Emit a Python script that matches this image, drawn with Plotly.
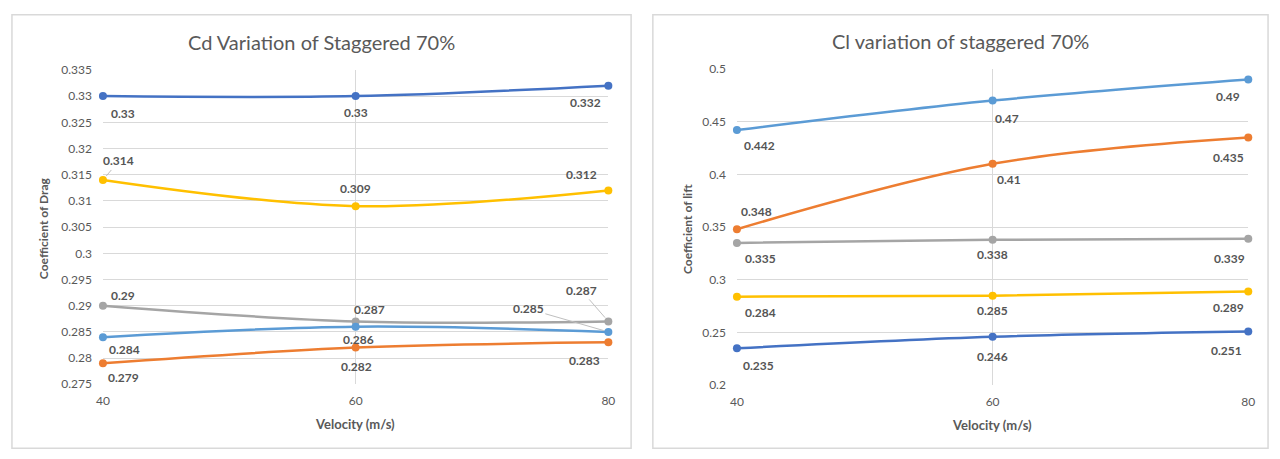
import plotly.graph_objects as go

# ---------------- data ----------------
velocity = [40, 60, 80]

# Drag coefficient, staggered 70%
cd_blue = [0.33, 0.33, 0.332]
cd_yellow = [0.314, 0.309, 0.312]
cd_gray = [0.29, 0.287, 0.287]
cd_lightblue = [0.284, 0.286, 0.285]
cd_orange = [0.279, 0.282, 0.283]

# Lift coefficient, staggered 70%
cl_lightblue = [0.442, 0.47, 0.49]
cl_orange = [0.348, 0.41, 0.435]
cl_gray = [0.335, 0.338, 0.339]
cl_yellow = [0.284, 0.285, 0.289]
cl_blue = [0.235, 0.246, 0.251]

cd_ticks = [0.275, 0.28, 0.285, 0.29, 0.295, 0.3, 0.305, 0.31, 0.315, 0.32, 0.325, 0.33, 0.335]
cl_ticks = [0.2, 0.25, 0.3, 0.35, 0.4, 0.45, 0.5]

# ---------------- styling ----------------
FONT = "Lato"
BLUE = "#4472C4"
ORANGE = "#ED7D31"
GRAY = "#A5A5A5"
YELLOW = "#FFC000"
LIGHTBLUE = "#5B9BD5"
GRID = "#D9D9D9"
TEXT = "#595959"
LABEL = "#555555"

W, H = 1280, 459

# label offsets in screen pixels (dx right, dy down); flag adds a leader line
cd_series = [
    (cd_blue, BLUE, [(20, 17), (0, 16), (-23, 17)], [False, False, False]),
    (cd_yellow, YELLOW, [(16, -19), (0, -18), (-27, -16)], [True, False, False]),
    (cd_gray, GRAY, [(20, -10), (14, -12), (-27, -31)], [False, False, True]),
    (cd_lightblue, LIGHTBLUE, [(22, 12), (3, 13), (-80, -23)], [False, False, True]),
    (cd_orange, ORANGE, [(21, 14), (1, 19), (-24, 18)], [False, False, False]),
]
cl_series = [
    (cl_lightblue, LIGHTBLUE, [(23, 15), (14, 18), (-20, 17)], [False] * 3),
    (cl_orange, ORANGE, [(20, -18), (16, 16), (-20, 20)], [False] * 3),
    (cl_gray, GRAY, [(24, 16), (0, 15), (-19, 20)], [False] * 3),
    (cl_yellow, YELLOW, [(24, 16), (0, 15), (-20, 16)], [False] * 3),
    (cl_blue, BLUE, [(22, 17), (0, 20), (-22, 19)], [False] * 3),
]

fig = go.Figure()
annotations = []


def fmt(v):
    return f"{v:g}"


def add_chart(series, xa, ya):
    for values, color, offsets, arrows in series:
        fig.add_trace(go.Scatter(
            x=velocity, y=values, mode="lines+markers",
            xaxis=xa, yaxis=ya, cliponaxis=False,
            line=dict(color=color, width=2.5, shape="spline", smoothing=1.0),
            marker=dict(color=color, size=8),
            hoverinfo="x+y", showlegend=False,
        ))
        for xv, yv, (dx, dy), arr in zip(velocity, values, offsets, arrows):
            ann = dict(
                x=xv, y=yv, xref=xa, yref=ya, text=f"<b>{fmt(yv)}</b>",
                font=dict(family=FONT, size=12, color=LABEL),
            )
            if arr:
                ann.update(showarrow=True, ax=dx, ay=dy, arrowhead=0,
                           arrowwidth=1, arrowcolor="#BFBFBF", standoff=5)
            else:
                ann.update(showarrow=False, xshift=dx, yshift=-dy)
            annotations.append(ann)


add_chart(cd_series, "x", "y")
add_chart(cl_series, "x2", "y2")

axis_common = dict(
    showgrid=True, gridcolor=GRID, gridwidth=1, zeroline=False,
    showline=False, ticks="", tickfont=dict(family=FONT, size=12, color=TEXT),
)

# plot area domains (paper fractions)
L_X = [97 / W, 608 / W]
L_Y = [1 - 389 / H, 1 - 64 / H]
R_X = [738 / W, 1255 / W]
R_Y = [1 - 390 / H, 1 - 63 / H]

fig.update_layout(
    width=W, height=H,
    margin=dict(l=0, r=0, t=0, b=0),
    paper_bgcolor="white", plot_bgcolor="white",
    xaxis=dict(domain=L_X, range=[40, 80], tickvals=velocity,
               ticktext=[str(v) for v in velocity], anchor="y",
               ticklabelstandoff=8, **axis_common),
    yaxis=dict(domain=L_Y, range=[cd_ticks[0], cd_ticks[-1]], tickvals=cd_ticks,
               ticktext=[fmt(t) for t in cd_ticks], anchor="x",
               ticklabelstandoff=10, **axis_common),
    xaxis2=dict(domain=R_X, range=[40, 80], tickvals=velocity,
                ticktext=[str(v) for v in velocity], anchor="y2",
                ticklabelstandoff=8, **axis_common),
    yaxis2=dict(domain=R_Y, range=[cl_ticks[0], cl_ticks[-1]], tickvals=cl_ticks,
                ticktext=[fmt(t) for t in cl_ticks], anchor="x2",
                ticklabelstandoff=10, **axis_common),
    showlegend=False,
    font=dict(family=FONT, color=TEXT),
)

# chart frames
for x0, x1 in [(5, 631), (653, 1275)]:
    fig.add_shape(type="rect", xref="paper", yref="paper",
                  x0=x0 / W, x1=x1 / W, y0=1 - 455 / H, y1=1 - 7 / H,
                  line=dict(color=GRID, width=1.5), fillcolor="rgba(0,0,0,0)",
                  layer="below")

# titles and axis titles
texts = [
    ("Cd Variation of Staggered 70%", 318, 35, 20, 0, False),
    ("Cl variation of staggered 70%", 964, 34, 20, 0, False),
    ("Velocity (m/s)", 352, 430, 13, 0, True),
    ("Velocity (m/s)", 996, 431, 13, 0, True),
    ("Coefficient of Drag", 37, 228, 12, -90, True),
    ("Coefficient of lift", 688, 228, 12, -90, True),
]
for txt, px, py, size, ang, bold in texts:
    annotations.append(dict(
        x=px / W, y=1 - py / H, xref="paper", yref="paper",
        text=f"<b>{txt}</b>" if bold else txt,
        showarrow=False, textangle=ang, xanchor="center", yanchor="middle",
        font=dict(family=FONT, size=size, color=TEXT),
    ))

fig.update_layout(annotations=annotations)
fig.write_html("out.html")
